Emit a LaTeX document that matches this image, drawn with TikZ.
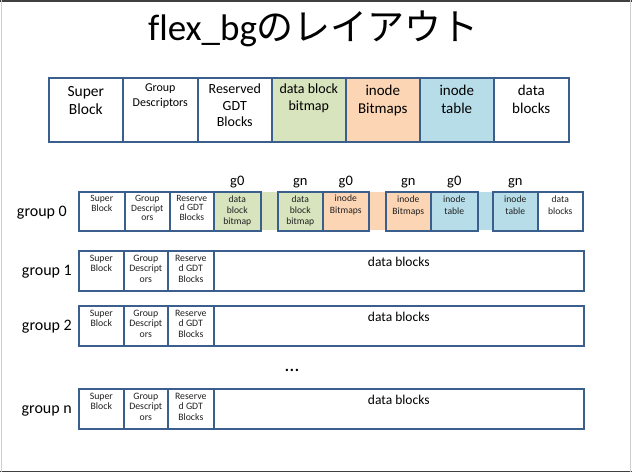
\documentclass[tikz,border=0pt]{standalone}
\usepackage{fontspec}
\setmainfont{Carlito}[Ligatures=NoCommon]
\newfontfamily\cjk{Noto Sans CJK JP}
\definecolor{bord}{HTML}{3B5F8C}
\definecolor{cgreen}{HTML}{D7E4BD}
\definecolor{corange}{HTML}{FCD5B5}
\definecolor{cblue}{HTML}{B7DEE8}
\definecolor{frameD}{HTML}{404040}
\definecolor{frameL}{HTML}{D0D0D0}
\definecolor{smgray}{HTML}{202020}
\tikzset{
  cellbox/.style={draw=bord, line width=1.6pt, anchor=north west, inner sep=0pt, minimum height=#1},
  strip/.style={fill=#1, draw=none, anchor=north west, inner sep=0pt},
  bigtxt/.style={anchor=north, inner sep=0pt, align=center, font=\fontsize{15}{18}\selectfont},
  midtxt/.style={anchor=north, inner sep=0pt, align=center, font=\fontsize{12}{15}\selectfont},
  smtxt/.style={anchor=north, inner sep=0pt, align=center, text=smgray, font=\fontsize{9.8}{10.4}\selectfont},
  dbtxt/.style={anchor=north, inner sep=0pt, align=center, font=\fontsize{13.5}{16}\selectfont},
  grplbl/.style={anchor=base east, inner sep=0pt, font=\fontsize{16}{18}\selectfont},
  glbl/.style={anchor=base, inner sep=0pt, font=\fontsize{14.5}{16}\selectfont},
}
\begin{document}
\begin{tikzpicture}[x=1pt,y=-1pt]
\useasboundingbox (0,0) rectangle (632,472);
% frame
\draw[frameD, line width=1.5pt] (0,0.75) -- (632,0.75);
\draw[frameD, line width=1.5pt] (0,471.25) -- (632,471.25);
\draw[frameL, line width=1pt] (1,0) -- (1,472);
\draw[frameL, line width=1.5pt] (630.5,0) -- (630.5,472);
% title
\node[anchor=base, inner sep=0pt, font=\fontsize{37}{40}\selectfont] (title) at (313.5,40) {f\kern0ptlex\_bg{\cjk のレイアウト}};
% top row
\node[cellbox=64pt, minimum width=74pt] (t1) at (48,77) {};
\node[cellbox=64pt, minimum width=75pt] (t2) at (122,77) {};
\node[cellbox=64pt, minimum width=74pt, fill=white] (t3) at (197,77) {};
\node[cellbox=64pt, minimum width=74pt, fill=cgreen] (t4) at (271,77) {};
\node[cellbox=64pt, minimum width=74pt, fill=corange] (t5) at (345,77) {};
\node[cellbox=64pt, minimum width=74pt, fill=cblue] (t6) at (419,77) {};
\node[cellbox=64pt, minimum width=75pt] (t7) at (493,77) {};
\node[bigtxt, font=\fontsize{15.5}{18}\selectfont] at ([yshift=-9pt]t1.north) {Super\\Block};
\node[midtxt] at ([yshift=-7pt]t2.north) {Group\\Descriptors};
\node[bigtxt, font=\fontsize{14}{16.5}\selectfont] at ([yshift=-7pt]t3.north) {Reserved\\GDT\\Blocks};
\node[bigtxt, font=\fontsize{14}{17}\selectfont] at ([yshift=-7pt]t4.north) {data block\\bitmap};
\node[bigtxt] at ([yshift=-8pt]t5.north) {inode\\Bitmaps};
\node[bigtxt] at ([yshift=-8pt]t6.north) {inode\\table};
\node[bigtxt] at ([yshift=-8pt]t7.north) {data\\blocks};
% group 0 row
\node[grplbl] (g0lbl) at (67,216) {group 0};
\node[strip=cgreen, minimum width=19pt, minimum height=38pt] (s1) at (259,192) {};
\node[strip=corange, minimum width=19pt, minimum height=38pt] (s2) at (367,192) {};
\node[strip=cblue, minimum width=17pt, minimum height=38pt] (s3) at (476,192) {};
\node[cellbox=39pt, minimum width=46pt] (a1) at (78,191) {};
\node[cellbox=39pt, minimum width=45pt] (a2) at (124,191) {};
\node[cellbox=39pt, minimum width=44pt] (a3) at (169,191) {};
\node[cellbox=39pt, minimum width=47pt, fill=cgreen] (a4) at (213,191) {};
\node[cellbox=39pt, minimum width=45pt, fill=cgreen] (a5) at (277,191) {};
\node[cellbox=39pt, minimum width=46pt, fill=corange] (a6) at (322,191) {};
\node[cellbox=39pt, minimum width=45pt, fill=corange] (a7) at (385,191) {};
\node[cellbox=39pt, minimum width=47pt, fill=cblue] (a8) at (430,191) {};
\node[cellbox=39pt, minimum width=45pt, fill=cblue] (a9) at (492,191) {};
\node[cellbox=39pt, minimum width=45pt] (a10) at (537,191) {};
\node[smtxt, font=\fontsize{9.6}{9.6}\selectfont] at ([yshift=-4pt]a1.north) {Super\\Block};
\node[smtxt, font=\fontsize{9.6}{9.6}\selectfont] at ([yshift=-4pt]a2.north) {Group\\Descript\\ors};
\node[smtxt, font=\fontsize{9.6}{9.6}\selectfont] at ([yshift=-4pt]a3.north) {Reserve\\d GDT\\Blocks};
\node[smtxt, font=\fontsize{9.6}{10.7}\selectfont] at ([yshift=-5pt]a4.north) {data\\block\\bitmap};
\node[smtxt, font=\fontsize{9.6}{10.7}\selectfont] at ([yshift=-5pt]a5.north) {data\\block\\bitmap};
\node[smtxt, font=\fontsize{9.6}{11.5}\selectfont] at ([yshift=-4pt]a6.north) {inode\\Bitmaps};
\node[smtxt, font=\fontsize{9.6}{11.5}\selectfont] at ([yshift=-5pt]a7.north) {inode\\Bitmaps};
\node[smtxt, font=\fontsize{9.6}{11.5}\selectfont] at ([yshift=-5pt]a8.north) {inode\\table};
\node[smtxt, font=\fontsize{9.6}{11.5}\selectfont] at ([yshift=-5pt]a9.north) {inode\\table};
\node[smtxt, font=\fontsize{9.6}{11.5}\selectfont] at ([yshift=-5pt]a10.north) {data\\blocks};
\node[glbl] at ([yshift=6pt]a4.north) {g0};
\node[glbl] at ([yshift=6pt]a5.north) {gn};
\node[glbl] at ([yshift=6pt]a6.north) {g0};
\node[glbl] at ([yshift=6pt]a7.north) {gn};
\node[glbl] at ([yshift=6pt]a8.north) {g0};
\node[glbl] at ([yshift=6pt]a9.north) {gn};
% groups 1, 2, n
\foreach \nm/\lb/\yy in {b/group 1/250, c/group 2/305, d/group n/388}{
  \node[grplbl] (\nm lbl) at (72,\yy+25) {\lb};
  \node[cellbox=40pt, minimum width=45pt] (\nm1) at (78,\yy) {};
  \node[cellbox=40pt, minimum width=44pt] (\nm2) at (123,\yy) {};
  \node[cellbox=40pt, minimum width=46pt] (\nm3) at (167,\yy) {};
  \node[cellbox=40pt, minimum width=370pt] (\nm4) at (213,\yy) {};
  \node[smtxt] at ([yshift=-5pt]\nm1.north) {Super\\Block};
  \node[smtxt] at ([yshift=-5pt]\nm2.north) {Group\\Descript\\ors};
  \node[smtxt] at ([yshift=-5pt]\nm3.north) {Reserve\\d GDT\\Blocks};
  \node[dbtxt] at ([yshift=-7pt]\nm4.north) {data blocks};
}
\node[anchor=base, inner sep=0pt, font=\fontsize{20}{22}\selectfont] (dots) at (292,371) {\dots};
\end{tikzpicture}
\end{document}
